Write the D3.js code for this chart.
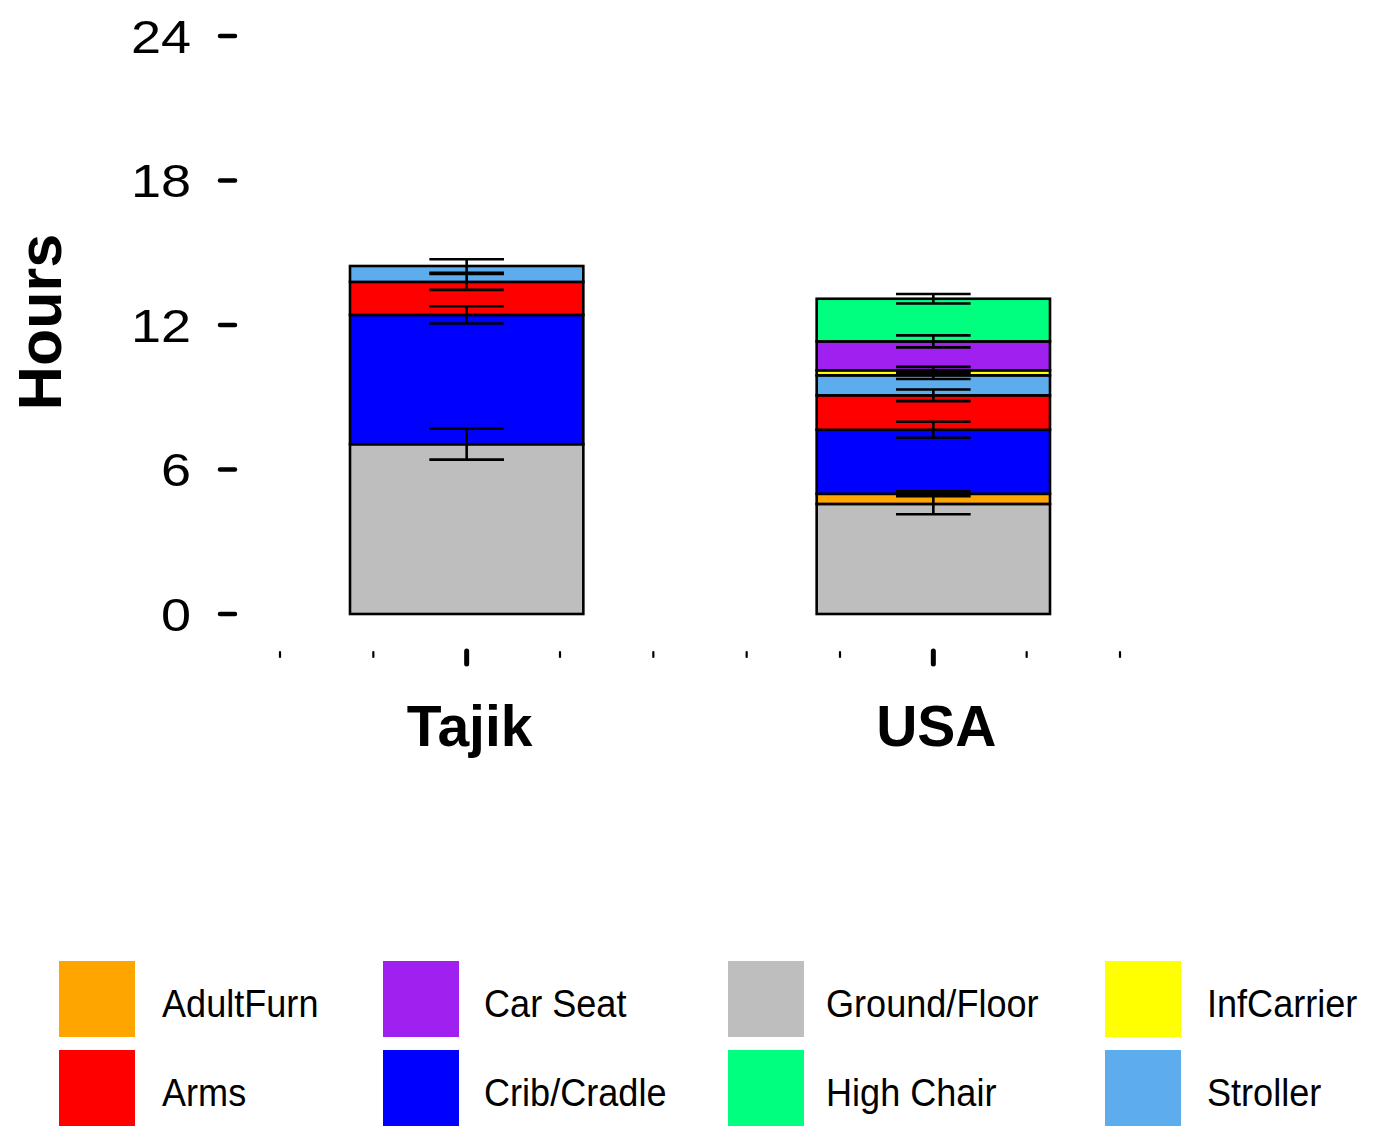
<!DOCTYPE html>
<html>
<head>
<meta charset="utf-8">
<script src="https://cdn.jsdelivr.net/npm/d3@7"></script>
<style>
  html, body { margin: 0; padding: 0; background: #fff; }
  svg { display: block; font-family: "Liberation Sans", Arial, Helvetica, sans-serif; }
</style>
</head>
<body>
<svg id="chart" width="1376" height="1127"></svg>
<script>
// Countries shown along the x axis
const categories = ["Tajik", "USA"];
// Stacking order of the positions, bottom to top
const stackOrder = ["Ground/Floor", "AdultFurn", "Crib/Cradle", "Arms", "Stroller", "InfCarrier", "Car Seat", "High Chair"];
// Legend order
const legendOrder = ["AdultFurn", "Arms", "Car Seat", "Crib/Cradle", "Ground/Floor", "High Chair", "InfCarrier", "Stroller"];
const colors = ["#FFA500", "#FF0000", "#A020F0", "#0000FF", "#BEBEBE", "#00FF7F", "#FFFF00", "#5CACEE"];

// Mean hours per day in each position (stackOrder order)
const tajikHours = [7.05, 0, 5.37, 1.37, 0.66, 0, 0, 0];
const usaHours   = [4.57, 0.42, 2.66, 1.43, 0.83, 0.21, 1.20, 1.77];
// Standard errors (stackOrder order)
const tajikErr = [0.64, 0, 0.36, 0.33, 0.28, 0, 0, 0];
const usaErr   = [0.43, 0.10, 0.33, 0.24, 0.15, 0.14, 0.25, 0.20];

const yTicks = [0, 6, 12, 18, 24];
// Category positions on the numeric x axis, minor tick positions
const catPos = [2, 7];
const minorTicks = d3.range(0, 10);

const svg = d3.select("#chart");

const x = d3.scaleLinear().domain([0, 9]).range([280, 1120]);
const y = d3.scaleLinear().domain([0, 24]).range([614, 36]);
const color = d3.scaleOrdinal().domain(legendOrder).range(colors);

const barHalf = 1.25;   // bar half-width in x units
const capHalf = 0.4;    // error cap half-width in x units

// Build stacked segments
const hoursBy = [tajikHours, usaHours];
const errBy = [tajikErr, usaErr];
const segments = [];
categories.forEach((c, ci) => {
  let base = 0;
  stackOrder.forEach((p, pi) => {
    const v = hoursBy[ci][pi];
    if (v > 0) {
      segments.push({ cat: c, pos: catPos[ci], key: p, y0: base, y1: base + v, err: errBy[ci][pi] });
    }
    base += v;
  });
});

// Bars
svg.append("g").selectAll("rect")
  .data(segments)
  .join("rect")
  .attr("x", d => x(d.pos - barHalf))
  .attr("width", d => x(d.pos + barHalf) - x(d.pos - barHalf))
  .attr("y", d => y(d.y1))
  .attr("height", d => y(d.y0) - y(d.y1))
  .attr("fill", d => color(d.key))
  .attr("stroke", "#000")
  .attr("stroke-width", 2.6);

// Error bars at the top of each segment
const eg = svg.append("g").attr("stroke", "#000").attr("stroke-width", 2.6);
segments.forEach(d => {
  const lo = d.y1 - d.err, hi = d.y1 + d.err;
  eg.append("line").attr("x1", x(d.pos)).attr("x2", x(d.pos)).attr("y1", y(lo)).attr("y2", y(hi));
  [lo, hi].forEach(v => {
    eg.append("line")
      .attr("x1", x(d.pos - capHalf)).attr("x2", x(d.pos + capHalf))
      .attr("y1", y(v)).attr("y2", y(v));
  });
});

// Y axis: ticks and labels only
const yAxis = svg.append("g");
yAxis.selectAll("line")
  .data(yTicks)
  .join("line")
  .attr("x1", 220).attr("x2", 235)
  .attr("y1", d => y(d)).attr("y2", d => y(d))
  .attr("stroke", "#000").attr("stroke-width", 4.5).attr("stroke-linecap", "round");
yAxis.selectAll("text")
  .data(yTicks)
  .join("text")
  .attr("transform", d => `translate(191,${y(d)}) scale(1.15,1)`)
  .attr("dy", "0.36em")
  .attr("text-anchor", "end")
  .attr("font-size", 47)
  .text(d => d);

// X axis: minor and major ticks
const xAxis = svg.append("g");
xAxis.selectAll("line.minor")
  .data(minorTicks.filter(t => !catPos.includes(t)))
  .join("line")
  .attr("class", "minor")
  .attr("x1", d => x(d)).attr("x2", d => x(d))
  .attr("y1", 652).attr("y2", 657)
  .attr("stroke", "#000").attr("stroke-width", 2.2).attr("stroke-linecap", "round");
xAxis.selectAll("line.major")
  .data(catPos)
  .join("line")
  .attr("class", "major")
  .attr("x1", d => x(d)).attr("x2", d => x(d))
  .attr("y1", 651).attr("y2", 664)
  .attr("stroke", "#000").attr("stroke-width", 5).attr("stroke-linecap", "round");
xAxis.selectAll("text")
  .data(categories)
  .join("text")
  .attr("x", (d, i) => x(catPos[i]) + 3)
  .attr("y", 746)
  .attr("text-anchor", "middle")
  .attr("font-size", 57)
  .attr("font-weight", "bold")
  .text(d => d);

// Y axis title
svg.append("text")
  .attr("transform", "translate(61,322) rotate(-90)")
  .attr("text-anchor", "middle")
  .attr("font-size", 61)
  .attr("font-weight", "bold")
  .text("Hours");

// Legend: 4 columns x 2 rows, filled column by column
const colX = [59, 383, 728, 1105];
const textX = [162, 484, 826, 1207];
const rowY = [961, 1050];
const lg = svg.append("g");
legendOrder.forEach((k, i) => {
  const col = Math.floor(i / 2), row = i % 2;
  lg.append("rect")
    .attr("x", colX[col]).attr("y", rowY[row])
    .attr("width", 76).attr("height", 76)
    .attr("fill", color(k));
  lg.append("text")
    .attr("transform", `translate(${textX[col]},${rowY[row] + 42}) scale(0.95,1)`)
    .attr("dy", "0.36em")
    .attr("font-size", 38)
    .text(k);
});
</script>
</body>
</html>
